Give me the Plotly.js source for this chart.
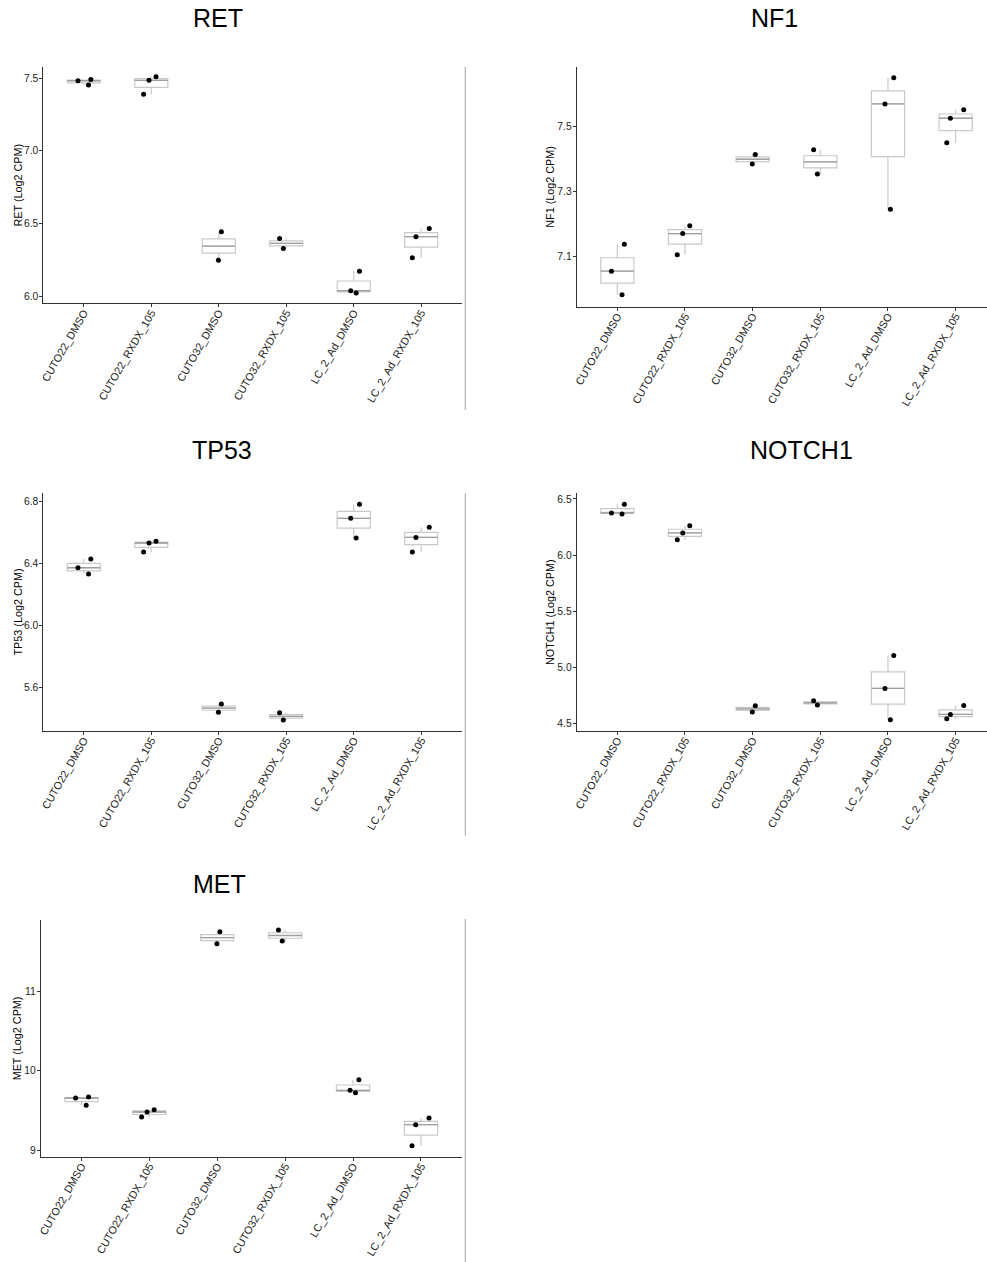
<!DOCTYPE html>
<html><head><meta charset="utf-8">
<script src="https://cdn.plot.ly/plotly-3.0.1.min.js"></script>
<style>html,body{margin:0;padding:0;background:#fff}#chart{width:987px;height:1262px}</style>
</head><body><div id="chart"></div>
<script>
const categories = ['CUTO22_DMSO','CUTO22_RXDX_105','CUTO32_DMSO','CUTO32_RXDX_105','LC_2_Ad_DMSO','LC_2_Ad_RXDX_105'];
const RET    = [[7.454,7.484,7.491],[7.511,7.486,7.390],[6.443,6.246],[6.328,6.397],[6.170,6.037,6.021],[6.264,6.409,6.466]];
const NF1    = [[7.137,7.054,6.981],[7.194,7.170,7.105],[7.414,7.385],[7.429,7.354],[7.651,7.570,7.245],[7.552,7.526,7.450]];
const TP53   = [[6.429,6.373,6.333],[6.544,6.533,6.475],[5.492,5.439],[5.436,5.389],[6.783,6.692,6.565],[6.634,6.569,6.475]];
const NOTCH1 = [[6.452,6.375,6.366],[6.262,6.197,6.137],[4.657,4.601],[4.663,4.702],[5.106,4.812,4.533],[4.660,4.580,4.542]];
const MET    = [[9.667,9.654,9.562],[9.507,9.478,9.415],[11.746,11.595],[11.767,11.629],[9.885,9.751,9.721],[9.403,9.319,9.055]];
const genes = ['RET','NF1','TP53','NOTCH1','MET'];
const geneData = {RET, NF1, TP53, NOTCH1, MET};

const W = 987, H = 1262;
// panel geometry (pixels)
const panels = {
  RET:    {x0:43.3, x1:461.7, y0:66.7,  y1:303.3,  yr:[5.950,7.580], tick0:6.0, dtick:0.5, fmt:'.1f', tx:217.5, ty:18,  lx:17.5},
  NF1:    {x0:576.7, x1:987,  y0:66.7,  y1:306.7,  yr:[6.9445,7.685], tick0:7.1, dtick:0.2, fmt:'.1f', tx:774,  ty:18,  lx:550},
  TP53:   {x0:43.3, x1:461.7, y0:493.3, y1:730.7,  yr:[5.32,6.854], tick0:5.6, dtick:0.4, fmt:'.1f', tx:222,   ty:450, lx:17.5},
  NOTCH1: {x0:576.7, x1:987,  y0:493.3, y1:730.7,  yr:[4.435,6.55], tick0:4.5, dtick:0.5, fmt:'.1f', tx:801,  ty:450, lx:550},
  MET:    {x0:40.7, x1:461.7, y0:920,   y1:1156.7, yr:[8.916,11.893], tick0:9, dtick:1, fmt:'d', tx:219,    ty:884, lx:17}
};

function quant(sorted, p){
  const h = (sorted.length-1)*p, lo = Math.floor(h);
  if (lo+1 >= sorted.length) return sorted[lo];
  return sorted[lo] + (h-lo)*(sorted[lo+1]-sorted[lo]);
}
function stats(arr){
  const s = arr.slice().sort((a,b)=>a-b);
  const q1 = quant(s,0.25), med = quant(s,0.5), q3 = quant(s,0.75);
  const iqr = q3-q1;
  const lf = Math.min(...s.filter(v=>v>=q1-1.5*iqr));
  const uf = Math.max(...s.filter(v=>v<=q3+1.5*iqr));
  return {q1, med, q3, lf, uf};
}

const traces = [], layout = {
  width:W, height:H, margin:{l:0,r:0,t:0,b:0}, showlegend:false,
  paper_bgcolor:'#fff', plot_bgcolor:'#fff', boxmode:'overlay',
  font:{family:'Liberation Sans, Arial, Helvetica, sans-serif', color:'#222'},
  annotations:[], shapes:[]
};

genes.forEach((g,i)=>{
  const p = panels[g], d = geneData[g];
  const sfx = i===0 ? '' : String(i+1);
  const xa = 'x'+sfx, ya = 'y'+sfx;
  const st = d.map(stats);
  const common = {type:'box', x:categories, xaxis:xa, yaxis:ya, whiskerwidth:0, boxpoints:false, hoverinfo:'skip'};
  traces.push(Object.assign({}, common, {
    q1:st.map(s=>s.q1), median:st.map(s=>s.med), q3:st.map(s=>s.q3),
    lowerfence:st.map(s=>s.lf), upperfence:st.map(s=>s.uf),
    line:{color:'#c9c9c9', width:1.2}, fillcolor:'rgba(255,255,255,0)'
  }));
  traces.push(Object.assign({}, common, {
    q1:st.map(s=>s.med), median:st.map(s=>s.med), q3:st.map(s=>s.med),
    lowerfence:st.map(s=>s.med), upperfence:st.map(s=>s.med),
    line:{color:'#9e9e9e', width:1.3}, fillcolor:'rgba(255,255,255,0)'
  }));
  const fx = [], fy = [];
  d.forEach((vals,k)=>vals.forEach(v=>{fx.push(categories[k]); fy.push(v);}));
  traces.push({type:'box', x:fx, y:fy, xaxis:xa, yaxis:ya, boxpoints:'all', jitter:0.55, pointpos:0,
    marker:{color:'#000', size:5}, line:{color:'rgba(0,0,0,0)', width:0}, fillcolor:'rgba(0,0,0,0)',
    whiskerwidth:0, hoverinfo:'skip'});

  const unit = p.x1 >= 987 ? 67.67 : (p.x1-p.x0)/6.2;
  const xr = [-0.6, -0.6 + (p.x1-p.x0)/unit];
  layout['xaxis'+sfx] = {
    domain:[p.x0/W, p.x1/W], anchor:ya, type:'category', range:xr,
    showline:true, linecolor:'#333', linewidth:1, ticks:'outside', ticklen:3, tickcolor:'#333', tickwidth:1,
    tickangle:-60, tickfont:{size:10.8, color:'#222'}, ticklabelstandoff:-5,
    showgrid:false, zeroline:false, automargin:false
  };
  layout['yaxis'+sfx] = {
    domain:[1-p.y1/H, 1-p.y0/H], anchor:xa, range:p.yr, tick0:p.tick0, dtick:p.dtick, tickformat:p.fmt,
    showline:true, linecolor:'#333', linewidth:1, ticks:'outside', ticklen:3, tickcolor:'#333', tickwidth:1,
    tickfont:{size:10.3, color:'#222'}, ticklabelstandoff:-1, showgrid:false, zeroline:false, automargin:false
  };
  layout.annotations.push({text:g, xref:'paper', yref:'paper', x:p.tx/W, y:1-p.ty/H,
    xanchor:'center', yanchor:'middle', showarrow:false, font:{size:25, color:'#000'}});
  layout.annotations.push({text:g+' (Log2 CPM)', xref:'paper', yref:'paper', x:p.lx/W, y:1-((p.y0+p.y1)/2)/H,
    xanchor:'center', yanchor:'middle', textangle:-90, showarrow:false, font:{size:10.8, color:'#000'}});
});

[[66.7,410],[493.3,835.7],[919,1262]].forEach(([a,b])=>{
  layout.shapes.push({type:'line', xref:'paper', yref:'paper', x0:465.3/W, x1:465.3/W, y0:1-a/H, y1:1-b/H,
    line:{color:'#b8b8b8', width:1.3}});
});

Plotly.newPlot('chart', traces, layout, {staticPlot:true, displayModeBar:false});
</script>
</body></html>
